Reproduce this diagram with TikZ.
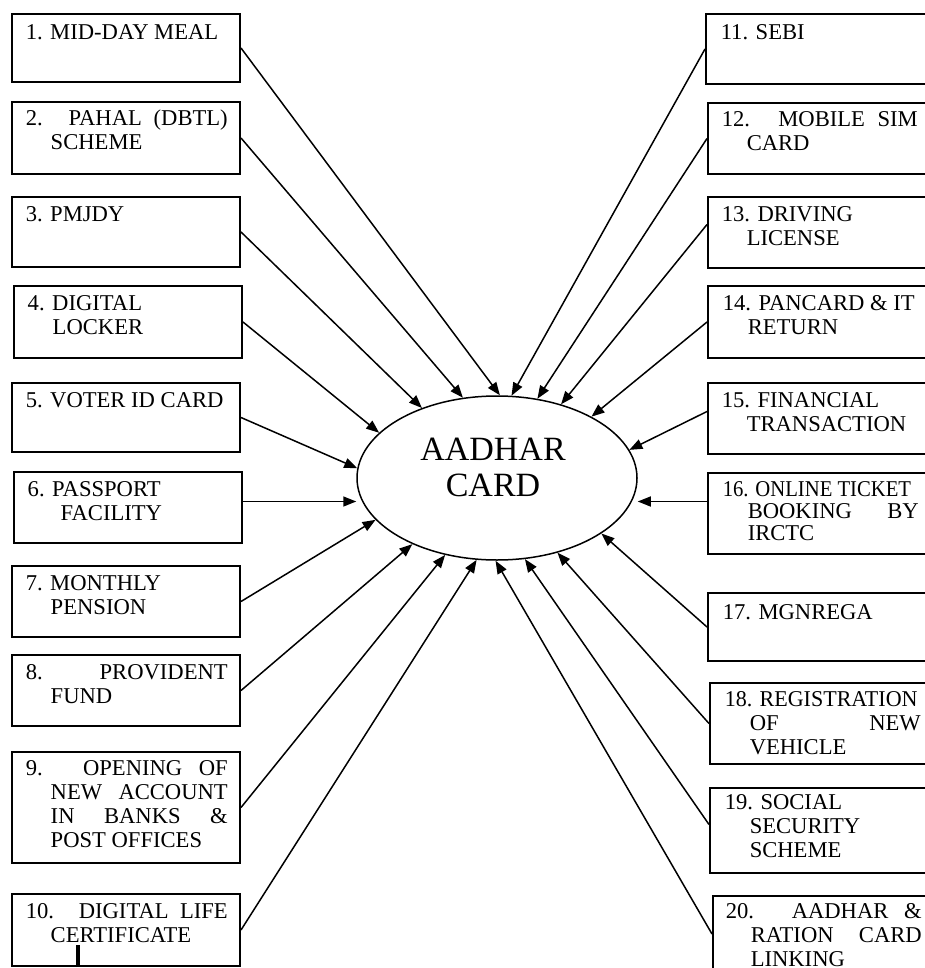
\documentclass[tikz,border=0pt]{standalone}
\usepackage{fontspec}
\usepackage{graphicx}
\setmainfont{Liberation Serif}
\usetikzlibrary{arrows.meta, positioning, calc, shapes.geometric}

% squeeze one line a little, as the scan does
\newcommand{\sqz}[2]{\scalebox{#1}[1]{#2}}

\begin{document}
\begin{tikzpicture}[
            x=0.5pt, y=-0.5pt,
            >={Triangle[length=6.5pt, width=5pt]}, line width=0.75pt,
            % ---- styles ----
            box/.style = {draw, rectangle, line width=1pt, anchor=north west, minimum width=114pt, inner sep=0pt},
            txt/.style = {anchor=base west, inner sep=0pt, text width=101pt, align=justify,
                          font=\fontsize{11.3}{12}\selectfont,
                          execute at begin node={\hangindent=12.5pt\hangafter=1\hyphenpenalty=10000\exhyphenpenalty=10000\tolerance=10000\hbadness=10000\hfuzz=3pt\relax}},
            txtr/.style = {txt, text width=98pt},
            link/.style = {->, line width=0.75pt}
        ]

        \useasboundingbox (0,0) rectangle (925,968);
        \clip (0,0) rectangle (925,968);

        % ===================== centre =====================
        \node[draw, ellipse, line width=0.75pt, minimum width=140pt, minimum height=82pt, inner sep=0pt] (card) at (497,478) {};
        \node[font=\fontsize{17}{18}\selectfont, align=center] (cardtxt) at ($(card.center)+(-4,-11)$) {AADHAR\\CARD};

        % ===================== left column =====================
        \node[box, minimum height=34pt] (b1) at (11,13) {};
        \node[txt] (t1) at ($(b1.north west)+(14,27)$) {1. MID-DAY MEAL};

        \node[box, minimum height=36pt] (b2) at (11,101) {};
        \node[txt] (t2) at ($(b2.north west)+(14,25)$) {2. PAHAL (DBTL)\linebreak SCHEME};

        \node[box, minimum height=35pt] (b3) at (11,196) {};
        \node[txt] (t3) at ($(b3.north west)+(14,25)$) {3. PMJDY};

        \node[box, minimum height=36pt] (b4) at (13,285) {};
        \node[txt] (t4) at ($(b4.north west)+(14,25)$) {4. DIGITAL\newline LOCKER};

        \node[box, minimum height=34.5pt] (b5) at (11,382) {};
        \node[txt] (t5) at ($(b5.north west)+(14,25)$) {5. VOTER ID CARD};

        \node[box, minimum height=35.5pt] (b6) at (13,471) {};
        \node[txt] (t6) at ($(b6.north west)+(14,25)$) {6. PASSPORT\newline\hspace*{4pt}FACILITY};

        \node[box, minimum height=35.5pt] (b7) at (11,565) {};
        \node[txt] (t7) at ($(b7.north west)+(14,25)$) {7. MONTHLY\newline PENSION};

        \node[box, minimum height=35.5pt] (b8) at (11,654) {};
        \node[txt] (t8) at ($(b8.north west)+(14,25)$) {8. PROVIDENT\linebreak FUND};

        \node[box, minimum height=55.5pt] (b9) at (11,751) {};
        \node[txt] (t9) at ($(b9.north west)+(14,24)$) {9. OPENING OF\linebreak NEW ACCOUNT\linebreak IN BANKS \&\linebreak POST OFFICES};

        \node[box, minimum height=36pt] (b10) at (11,893) {};
        \node[txt] (t10) at ($(b10.north west)+(14,25)$) {10. DIGITAL LIFE\linebreak CERTIFICATE};
        \draw[line width=2pt] ($(b10.south west)+(67,0)$) -- ++(0,-22);

        % ===================== right column =====================
        \node[box, minimum height=35pt] (b11) at (705,13) {};
        \node[txtr] (t11) at ($(b11.north west)+(15,27)$) {11. SEBI};

        \node[box, minimum height=35.5pt] (b12) at (707,102) {};
        \node[txtr] (t12) at ($(b12.north west)+(14,25)$) {12. MOBILE SIM\linebreak CARD};

        \node[box, minimum height=35.5pt] (b13) at (707,196) {};
        \node[txtr] (t13) at ($(b13.north west)+(14,25)$) {13. DRIVING\newline LICENSE};

        \node[box, minimum height=36pt] (b14) at (707,285) {};
        \node[txtr] (t14) at ($(b14.north west)+(15,25)$) {14. PANCARD \& IT\newline RETURN};

        \node[box, minimum height=35.5pt] (b15) at (707,382) {};
        \node[txtr] (t15) at ($(b15.north west)+(14,25)$) {15. FINANCIAL\newline TRANSACTION};

        \node[box, minimum height=40.5pt] (b16) at (707,472) {};
        \node[txtr, font=\fontsize{11.3}{11}\selectfont] (t16) at ($(b16.north west)+(15,24)$) {\sqz{0.915}{16. ONLINE TICKET}\linebreak BOOKING BY\linebreak IRCTC};

        \node[box, minimum height=34pt] (b17) at (707,592) {};
        \node[txtr] (t17) at ($(b17.north west)+(15,27)$) {17. MGNREGA};

        \node[box, minimum height=40.5pt] (b18) at (709,682) {};
        \node[txtr] (t18) at ($(b18.north west)+(15,24)$) {\sqz{0.975}{18. REGISTRATION}\linebreak OF NEW\linebreak VEHICLE};

        \node[box, minimum height=42.5pt] (b19) at (709,787) {};
        \node[txtr] (t19) at ($(b19.north west)+(15,22)$) {19. SOCIAL\newline SECURITY\newline SCHEME};

        \node[box, minimum height=38pt] (b20) at (712,895) {};
        \node[txtr] (t20) at ($(b20.north west)+(13,23)$) {20. AADHAR \&\linebreak RATION CARD\linebreak LINKING};

        % ---- links into the card ----
        \draw[link] (b1.east) -- (card.88);
        \draw[link] (b2.east) -- (card.113);
        \draw[link] (b3.east) -- (card.137);
        \draw[link] (b4.east) -- (card.159);
        \draw[link] (b5.east) -- (card.176);
        \draw[link] ([yshift=3pt]b6.east) -- ([yshift=3pt]b6.east -| card.west);
        \draw[link] (b7.east) -- (card.199);
        \draw[link] (b8.east) -- (card.218);
        \draw[link] (b9.east) -- (card.236);
        \draw[link] (b10.east) -- (card.256);

        \draw[link] (b11.west) -- (card.80);
        \draw[link] (b12.west) -- (card.63);
        \draw[link] ([yshift=4pt]b13.west) -- (card.49);
        \draw[link] (b14.west) -- (card.33);
        \draw[link] ([yshift=3.5pt]b15.west) -- (card.12);
        \draw[link] ([yshift=6pt]b16.west) -- ([yshift=6pt]b16.west -| card.east);
        \draw[link] (b17.west) -- (card.332);
        \draw[link] (b18.west) -- (card.309);
        \draw[link] ([yshift=3pt]b19.west) -- (card.289);
        \draw[link] (b20.west) -- (card.269);

        \end{tikzpicture}
\end{document}
